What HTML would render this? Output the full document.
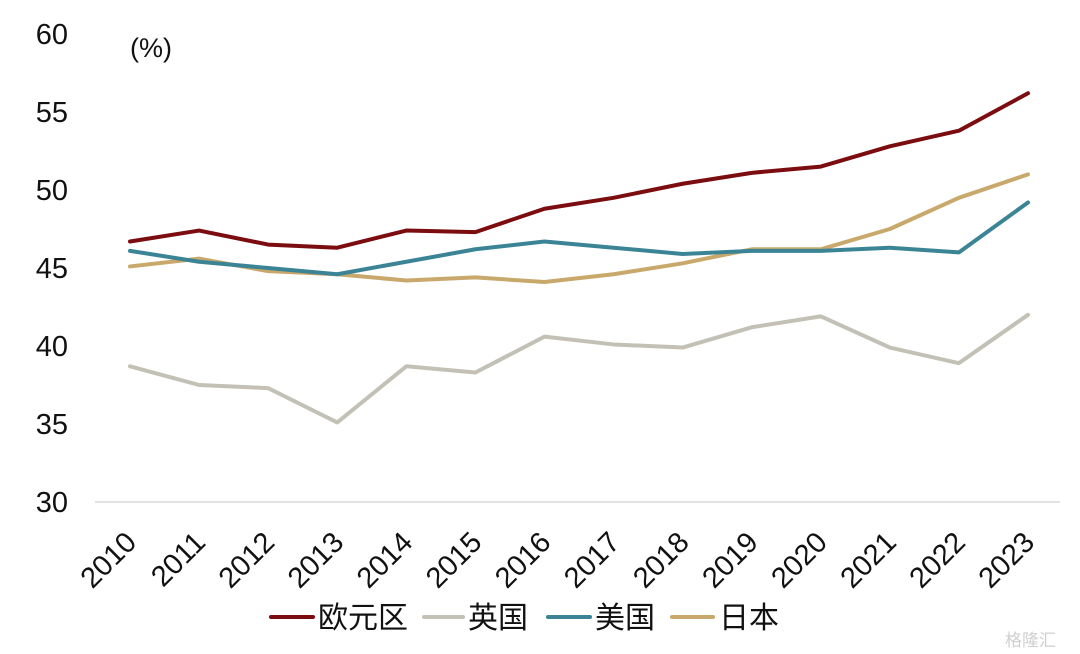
<!DOCTYPE html>
<html><head><meta charset="utf-8">
<style>
html,body{margin:0;padding:0;background:#fff;}
svg{display:block;font-family:"Liberation Sans","Noto Sans CJK SC",sans-serif;}
</style></head>
<body>
<svg id="chart" width="1080" height="654" viewBox="0 0 1080 654">
<text x="130" y="57" font-size="27" fill="#111">(%)</text>
<line x1="95" y1="502" x2="1060" y2="502" stroke="#d9d9d9" stroke-width="1.5"/>
<g id="yticks"></g><g id="xticks"></g><g id="lines"></g>
<g>
 <g><line x1="271" y1="617" x2="313" y2="617" stroke="#7b0c0f" stroke-width="4" stroke-linecap="round"/><text x="318" y="628" font-size="30" fill="#111">欧元区</text></g>
 <g><line x1="424" y1="617" x2="463" y2="617" stroke="#c3c1b6" stroke-width="4" stroke-linecap="round"/><text x="468" y="628" font-size="30" fill="#111">英国</text></g>
 <g><line x1="548" y1="617" x2="590" y2="617" stroke="#3b8496" stroke-width="4" stroke-linecap="round"/><text x="595" y="628" font-size="30" fill="#111">美国</text></g>
 <g><line x1="672" y1="617" x2="713" y2="617" stroke="#c9a86c" stroke-width="4" stroke-linecap="round"/><text x="719" y="628" font-size="30" fill="#111">日本</text></g>
</g>
<text x="1005" y="646" font-size="17" fill="#cfcfcf">格隆汇</text>
</svg>
<script>
const years = [2010,2011,2012,2013,2014,2015,2016,2017,2018,2019,2020,2021,2022,2023];
const yTicks = [30,35,40,45,50,55,60];
const eurozone = [46.7,47.4,46.5,46.3,47.4,47.3,48.8,49.5,50.4,51.1,51.5,52.8,53.8,56.2];
const uk = [38.7,37.5,37.3,35.1,38.7,38.3,40.6,40.1,39.9,41.2,41.9,39.9,38.9,42.0];
const us = [46.1,45.4,45.0,44.6,45.4,46.2,46.7,46.3,45.9,46.1,46.1,46.3,46.0,49.2];
const japan = [45.1,45.6,44.8,44.6,44.2,44.4,44.1,44.6,45.3,46.2,46.2,47.5,49.5,51.0];

const NS="http://www.w3.org/2000/svg";
const yMin=30,yMax=60,yTop=34,yBot=502;
const xFirst=130,xLast=1028;
function yScale(v){return yBot-(v-yMin)/(yMax-yMin)*(yBot-yTop);}
function xScale(i){return xFirst+i*(xLast-xFirst)/(years.length-1);}

const yg=document.getElementById('yticks');
yTicks.forEach(t=>{
  const e=document.createElementNS(NS,'text');
  
  
  e.setAttribute('x',68);e.setAttribute('y',yScale(t)+10);
  e.setAttribute('text-anchor','end');e.setAttribute('font-size','29');e.setAttribute('fill','#111');
  e.textContent=t;yg.appendChild(e);
});
const xg=document.getElementById('xticks');
years.forEach((yr,i)=>{
  const e=document.createElementNS(NS,'text');
  
  
  const x=xScale(i)+8,y=544;
  e.setAttribute('x',x);e.setAttribute('y',y);
  e.setAttribute('text-anchor','end');e.setAttribute('font-size','29');e.setAttribute('fill','#111');
  e.setAttribute('transform','rotate(-45 '+x+' '+y+')');
  e.textContent=yr;xg.appendChild(e);
});
const lg=document.getElementById('lines');
[[uk,'#c3c1b6','line-uk'],[japan,'#c9a86c','line-japan'],[us,'#3b8496','line-us'],[eurozone,'#7b0c0f','line-eurozone']].forEach(s=>{
  const p=document.createElementNS(NS,'polyline');
  
  
  p.setAttribute('points',s[0].map((v,i)=>xScale(i)+','+yScale(v)).join(' '));
  p.setAttribute('fill','none');p.setAttribute('stroke',s[1]);p.setAttribute('stroke-width','4');
  p.setAttribute('stroke-linejoin','round');p.setAttribute('stroke-linecap','round');
  lg.appendChild(p);
});
</script>
</body></html>
